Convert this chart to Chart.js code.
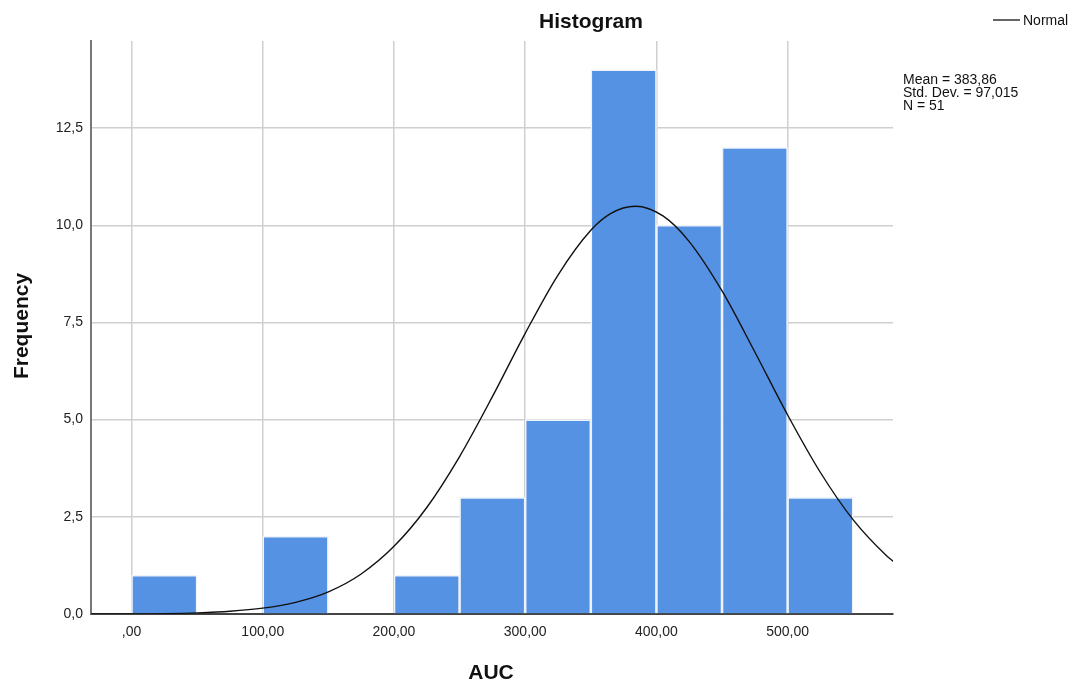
<!DOCTYPE html>
<html>
<head>
<meta charset="utf-8">
<script src="https://cdn.jsdelivr.net/npm/chart.js@4.4.1/dist/chart.umd.min.js"></script>
<style>
  body { margin: 0; background: #fff; }
  #wrap { width: 1074px; height: 683px; position: relative; }
</style>
</head>
<body>
<div id="wrap"><canvas id="chart"></canvas></div>
<script>
// histogram bins (width 50) and counts
const binCenters = [25, 75, 125, 175, 225, 275, 325, 375, 425, 475, 525];
const binCounts = [1, 0, 2, 0, 1, 3, 5, 14, 10, 12, 3];

// normal curve
const curveX = [-31, 0, 25, 50, 75, 100, 125, 150, 175, 200, 225, 250, 275, 300, 325, 350, 365, 384, 405, 425, 450, 475, 500, 525, 550, 575, 581];
const curveY = [0, 0, 0.01, 0.03, 0.07, 0.15, 0.30, 0.57, 1.03, 1.74, 2.74, 4.05, 5.59, 7.22, 8.72, 9.87, 10.30, 10.49, 10.24, 9.58, 8.31, 6.74, 5.12, 3.64, 2.42, 1.51, 1.34];

// ticks
const xTicks = [0, 100, 200, 300, 400, 500];
const xTickLabels = [',00', '100,00', '200,00', '300,00', '400,00', '500,00'];
const yTicks = [0, 2.5, 5, 7.5, 10, 12.5];
const yTickLabels = ['0,0', '2,5', '5,0', '7,5', '10,0', '12,5'];

const statLines = ['Mean = 383,86', 'Std. Dev. = 97,015', 'N = 51'];

const FONT = "'Liberation Sans', Arial, sans-serif";

// titles, legend and stats box
const textPlugin = {
  id: 'texts',
  afterDraw(chart) {
    const ctx = chart.ctx;
    ctx.save();
    ctx.fillStyle = '#111';
    ctx.textBaseline = 'alphabetic';

    ctx.font = 'bold 21px ' + FONT;
    ctx.textAlign = 'center';
    ctx.fillText('Histogram', 591, 28);
    ctx.fillText('AUC', 491, 679);

    ctx.save();
    ctx.translate(28, 326);
    ctx.rotate(-Math.PI / 2);
    ctx.fillText('Frequency', 0, 0);
    ctx.restore();

    // legend
    ctx.strokeStyle = '#111';
    ctx.lineWidth = 1.3;
    ctx.beginPath();
    ctx.moveTo(993, 20);
    ctx.lineTo(1020, 20);
    ctx.stroke();
    ctx.font = '14px ' + FONT;
    ctx.textAlign = 'left';
    ctx.fillText('Normal', 1023, 25);

    statLines.forEach((s, i) => {
      ctx.fillText(s, 903, 84 + i * 13);
    });
    ctx.restore();
  }
};

new Chart(document.getElementById('chart'), {
  type: 'bar',
  data: {
    datasets: [
      {
        type: 'line',
        label: 'Normal',
        data: curveX.map((x, i) => ({ x: x, y: curveY[i] })),
        borderColor: '#111',
        borderWidth: 1.4,
        pointRadius: 0,
        fill: false,
        cubicInterpolationMode: 'monotone',
        order: 0
      },
      {
        type: 'bar',
        label: 'AUC',
        data: binCenters.map((x, i) => ({ x: x, y: binCounts[i] })),
        backgroundColor: '#5592e4',
        borderColor: '#eef3fa',
        borderWidth: 1.6,
        barPercentage: 1,
        categoryPercentage: 1,
        order: 1
      }
    ]
  },
  options: {
    responsive: true,
    maintainAspectRatio: false,
    animation: false,
    layout: { padding: { left: 0, top: 41, right: 181, bottom: 0 } },
    plugins: {
      legend: { display: false },
      title: { display: false },
      tooltip: { enabled: false }
    },
    scales: {
      x: {
        type: 'linear',
        min: -30.9,
        max: 580.3,
        offset: false,
        afterBuildTicks(scale) {
          scale.ticks = xTicks.map(v => ({ value: v }));
        },
        afterFit(scale) { scale.height = 69; },
        ticks: {
          font: { size: 14, family: FONT },
          color: '#222',
          padding: 10,
          maxRotation: 0,
          autoSkip: false,
          callback: (v) => xTickLabels[xTicks.indexOf(v)]
        },
        grid: { color: '#cfcfcf', lineWidth: 1.5, drawTicks: false, offset: false },
        border: { color: '#444', width: 2 }
      },
      y: {
        min: 0,
        max: 14.74,
        afterBuildTicks(scale) {
          scale.ticks = yTicks.map(v => ({ value: v }));
        },
        afterFit(scale) { scale.width = 91; },
        ticks: {
          font: { size: 14, family: FONT },
          color: '#222',
          padding: 8,
          callback: (v) => yTickLabels[yTicks.indexOf(v)]
        },
        grid: { color: '#cfcfcf', lineWidth: 1.5, drawTicks: false },
        border: { color: '#777', width: 2 }
      }
    }
  },
  plugins: [textPlugin]
});
</script>
</body>
</html>
